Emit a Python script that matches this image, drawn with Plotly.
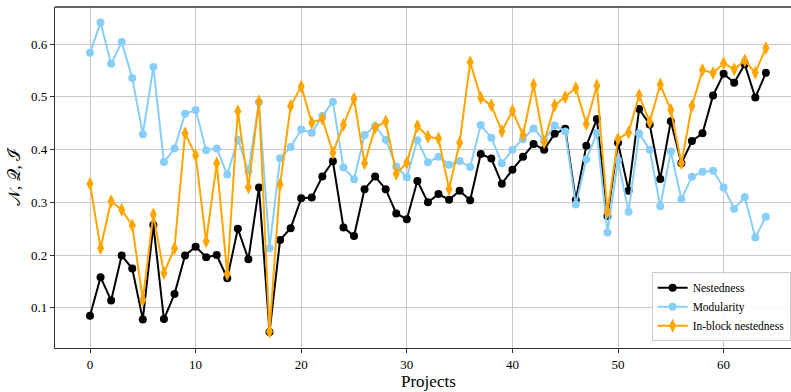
import plotly.graph_objects as go

projects = list(range(65))

nestedness = [0.085, 0.158, 0.114, 0.199, 0.1745, 0.078, 0.257, 0.0785, 0.126, 0.199,
              0.216, 0.196, 0.200, 0.156, 0.250, 0.192, 0.328, 0.054, 0.2285, 0.251,
              0.3077, 0.309, 0.349, 0.378, 0.2525, 0.236, 0.325, 0.349, 0.325, 0.279,
              0.268, 0.3405, 0.300, 0.3157, 0.305, 0.322, 0.304, 0.3917, 0.383, 0.3355,
              0.362, 0.3866, 0.4106, 0.400, 0.4302, 0.4396, 0.3043, 0.4075, 0.458, 0.274,
              0.413, 0.3222, 0.477, 0.4478, 0.3443, 0.454, 0.374, 0.4163, 0.431, 0.5028,
              0.544, 0.5268, 0.562, 0.4987, 0.5457]

modularity = [0.5836, 0.641, 0.563, 0.604, 0.536, 0.429, 0.557, 0.3765, 0.402, 0.468,
              0.475, 0.399, 0.402, 0.353, 0.419, 0.3595, 0.490, 0.213, 0.3835, 0.405,
              0.438, 0.432, 0.4636, 0.491, 0.366, 0.344, 0.4277, 0.445, 0.419, 0.368,
              0.3475, 0.418, 0.376, 0.3866, 0.3715, 0.3785, 0.367, 0.4466, 0.4226, 0.374,
              0.400, 0.4195, 0.440, 0.418, 0.446, 0.4346, 0.2957, 0.3816, 0.4314, 0.243,
              0.3797, 0.2824, 0.4308, 0.400, 0.2925, 0.3965, 0.306, 0.3487, 0.358, 0.360,
              0.328, 0.2881, 0.310, 0.2335, 0.2727]

inblock = [0.3355, 0.213, 0.302, 0.286, 0.256, 0.115, 0.277, 0.166, 0.213, 0.431,
           0.389, 0.226, 0.374, 0.164, 0.473, 0.3285, 0.492, 0.055, 0.334, 0.4826,
           0.520, 0.451, 0.4586, 0.394, 0.447, 0.4965, 0.374, 0.4415, 0.4535, 0.3544,
           0.375, 0.445, 0.4245, 0.421, 0.3254, 0.413, 0.566, 0.4984, 0.484, 0.435,
           0.4737, 0.4277, 0.523, 0.4138, 0.484, 0.500, 0.517, 0.4485, 0.5217, 0.2821,
           0.420, 0.4327, 0.503, 0.4523, 0.5235, 0.475, 0.374, 0.4826, 0.551, 0.5455,
           0.564, 0.5523, 0.569, 0.546, 0.593]

x_ticks = [0, 10, 20, 30, 40, 50, 60]
y_ticks = [0.1, 0.2, 0.3, 0.4, 0.5, 0.6]
y_tick_labels = ["0.1", "0.2", "0.3", "0.4", "0.5", "0.6"]

FONT = "Liberation Serif, Times New Roman, DejaVu Serif, serif"

fig = go.Figure()
fig.add_trace(go.Scatter(x=projects, y=nestedness, mode="lines+markers", name="Nestedness",
                         line=dict(color="black", width=2),
                         marker=dict(symbol="circle", size=8, color="black")))
fig.add_trace(go.Scatter(x=projects, y=modularity, mode="lines+markers", name="Modularity",
                         line=dict(color="#87CEFA", width=2),
                         marker=dict(symbol="circle", size=8, color="#87CEFA")))
fig.add_trace(go.Scatter(x=projects, y=inblock, mode="lines+markers", name="In-block nestedness",
                         line=dict(color="#FFA500", width=2),
                         marker=dict(symbol="diamond-tall", size=10, color="#FFA500")))

fig.update_layout(
    width=791, height=392,
    margin=dict(l=55, r=0, t=7, b=44),
    paper_bgcolor="white", plot_bgcolor="white",
    font=dict(family=FONT, size=13, color="black"),
    showlegend=True,
    legend=dict(x=0.9995, y=0.02, xanchor="right", yanchor="bottom",
                bgcolor="rgba(255,255,255,0.85)", bordercolor="#cccccc", borderwidth=1,
                font=dict(family=FONT, size=11.5, color="black"), tracegroupgap=0, itemwidth=30),
    xaxis=dict(range=[-3.314, 66.38], tickvals=x_ticks, ticks="outside", ticklen=4,
               tickcolor="#333", showline=True, linecolor="#333", linewidth=1.3,
               showgrid=True, gridcolor="#c8c8c8", gridwidth=1.2, zeroline=False,
               tickfont=dict(family=FONT, size=13, color="black")),
    yaxis=dict(range=[0.0237, 0.6706], tickvals=y_ticks, ticktext=y_tick_labels,
               ticks="outside", ticklen=4, tickcolor="#333", showline=True, linecolor="#333", linewidth=1.3,
               showgrid=True, gridcolor="#c8c8c8", gridwidth=1.2, zeroline=False,
               title=dict(text="𝒩, 𝒬, ℐ", font=dict(family=FONT, size=17, color="black"), standoff=6),
               tickfont=dict(family=FONT, size=13, color="black")),
    shapes=[dict(type="line", xref="paper", yref="paper", x0=0, x1=1, y0=1, y1=1,
                 line=dict(color="#333", width=1.3))],
    annotations=[dict(text="Projects", xref="paper", yref="paper", x=0.507, y=0,
                      yshift=-33, xanchor="center", yanchor="middle", showarrow=False,
                      font=dict(family=FONT, size=17, color="black"))],
)

fig.write_html("out.html", config={"displayModeBar": False},
               post_script="document.body.style.margin='0px';document.body.style.overflow='hidden';")
